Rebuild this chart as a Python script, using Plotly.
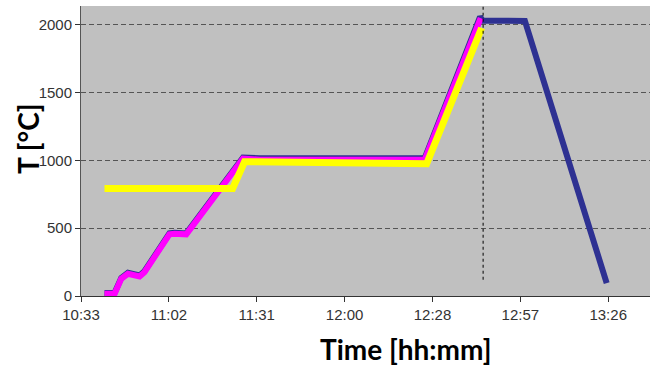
import plotly.graph_objects as go

# time in minutes since midnight
tick_vals = [633.6, 662.4, 691.2, 720.0, 748.8, 777.6, 806.4]
tick_text = ["10:33", "11:02", "11:31", "12:00", "12:28", "12:57", "13:26"]
y_ticks = [0, 500, 1000, 1500, 2000]

blue_t = [641.3, 644.6, 646.8, 649.0, 652.8, 654.4, 662.6, 664.3, 668.1, 670.3, 680.7, 686.7, 692.2, 746.3, 764.4, 765.3, 779.1, 805.9]
blue_T = [22, 22, 134, 171, 151, 183, 462, 467, 462, 528, 837, 1022, 1017, 1019, 2060, 2032, 2030, 95]

magenta_t = [641.3, 644.6, 646.8, 649.0, 652.8, 654.4, 662.6, 664.3, 668.1, 670.3, 680.7, 686.7, 692.2, 746.3, 764.6]
magenta_T = [16, 16, 127, 164, 144, 176, 455, 460, 455, 521, 830, 1014, 1006, 1008, 2050]

yellow_t = [641.3, 683.3, 687.2, 746.9, 764.9]
yellow_T = [793, 793, 991, 976, 1978]

marker_t = [765.4, 765.4]
marker_T = [120, 2140]

fig = go.Figure()
fig.add_trace(go.Scatter(x=blue_t, y=blue_T, mode="lines",
                         line=dict(color="#2E3192", width=6), showlegend=False))
fig.add_trace(go.Scatter(x=magenta_t, y=magenta_T, mode="lines",
                         line=dict(color="#FF00FF", width=6), showlegend=False))
fig.add_trace(go.Scatter(x=yellow_t, y=yellow_T, mode="lines",
                         line=dict(color="#FFFF00", width=7), showlegend=False))
fig.add_trace(go.Scatter(x=marker_t, y=marker_T, mode="lines",
                         line=dict(color="#000000", width=1, dash="3px,3px"), showlegend=False))

fig.update_layout(
    width=650, height=368,
    margin=dict(l=81, r=0, t=6, b=72, autoexpand=False),
    paper_bgcolor="white", plot_bgcolor="#C0C0C0",
    showlegend=False,
    font=dict(family="Liberation Sans, Arial, sans-serif", size=15, color="#333333"),
)
fig.update_xaxes(range=[633.6, 820.1], tickvals=tick_vals, ticktext=tick_text, automargin=False,
                 showgrid=False, zeroline=False, showline=True, linecolor="#333333", linewidth=1,
                 ticks="outside", ticklen=5, tickcolor="#333333", tickfont=dict(size=15, color="#333333"))
fig.update_yaxes(range=[0, 2140], tickvals=y_ticks, automargin=False,
                 showgrid=True, gridcolor="#555555", gridwidth=1, griddash="5px,3px",
                 zeroline=False, showline=True, linecolor="#555555", linewidth=1,
                 ticks="outside", ticklen=5, tickcolor="#333333", tickfont=dict(size=15, color="#333333"))

fig.add_annotation(text="<b>Time [hh:mm]</b>", xref="paper", yref="paper",
                   x=(405.5 - 81) / 569, y=-(349 - 296) / 290, xanchor="center", yanchor="middle",
                   borderpad=0,
                   showarrow=False, font=dict(family="Lato, sans-serif", size=28, color="#000000"))
fig.add_annotation(text="<b>T [°C]</b>", xref="paper", yref="paper",
                   x=-(81 - 28) / 569, y=(296 - 139) / 290, xanchor="center", yanchor="middle",
                   textangle=-90, borderpad=0,
                   showarrow=False, font=dict(family="Lato, sans-serif", size=28, color="#000000"))

fig.write_html("out.html", config={"displayModeBar": False},
               post_script="document.body.style.margin='0';")
